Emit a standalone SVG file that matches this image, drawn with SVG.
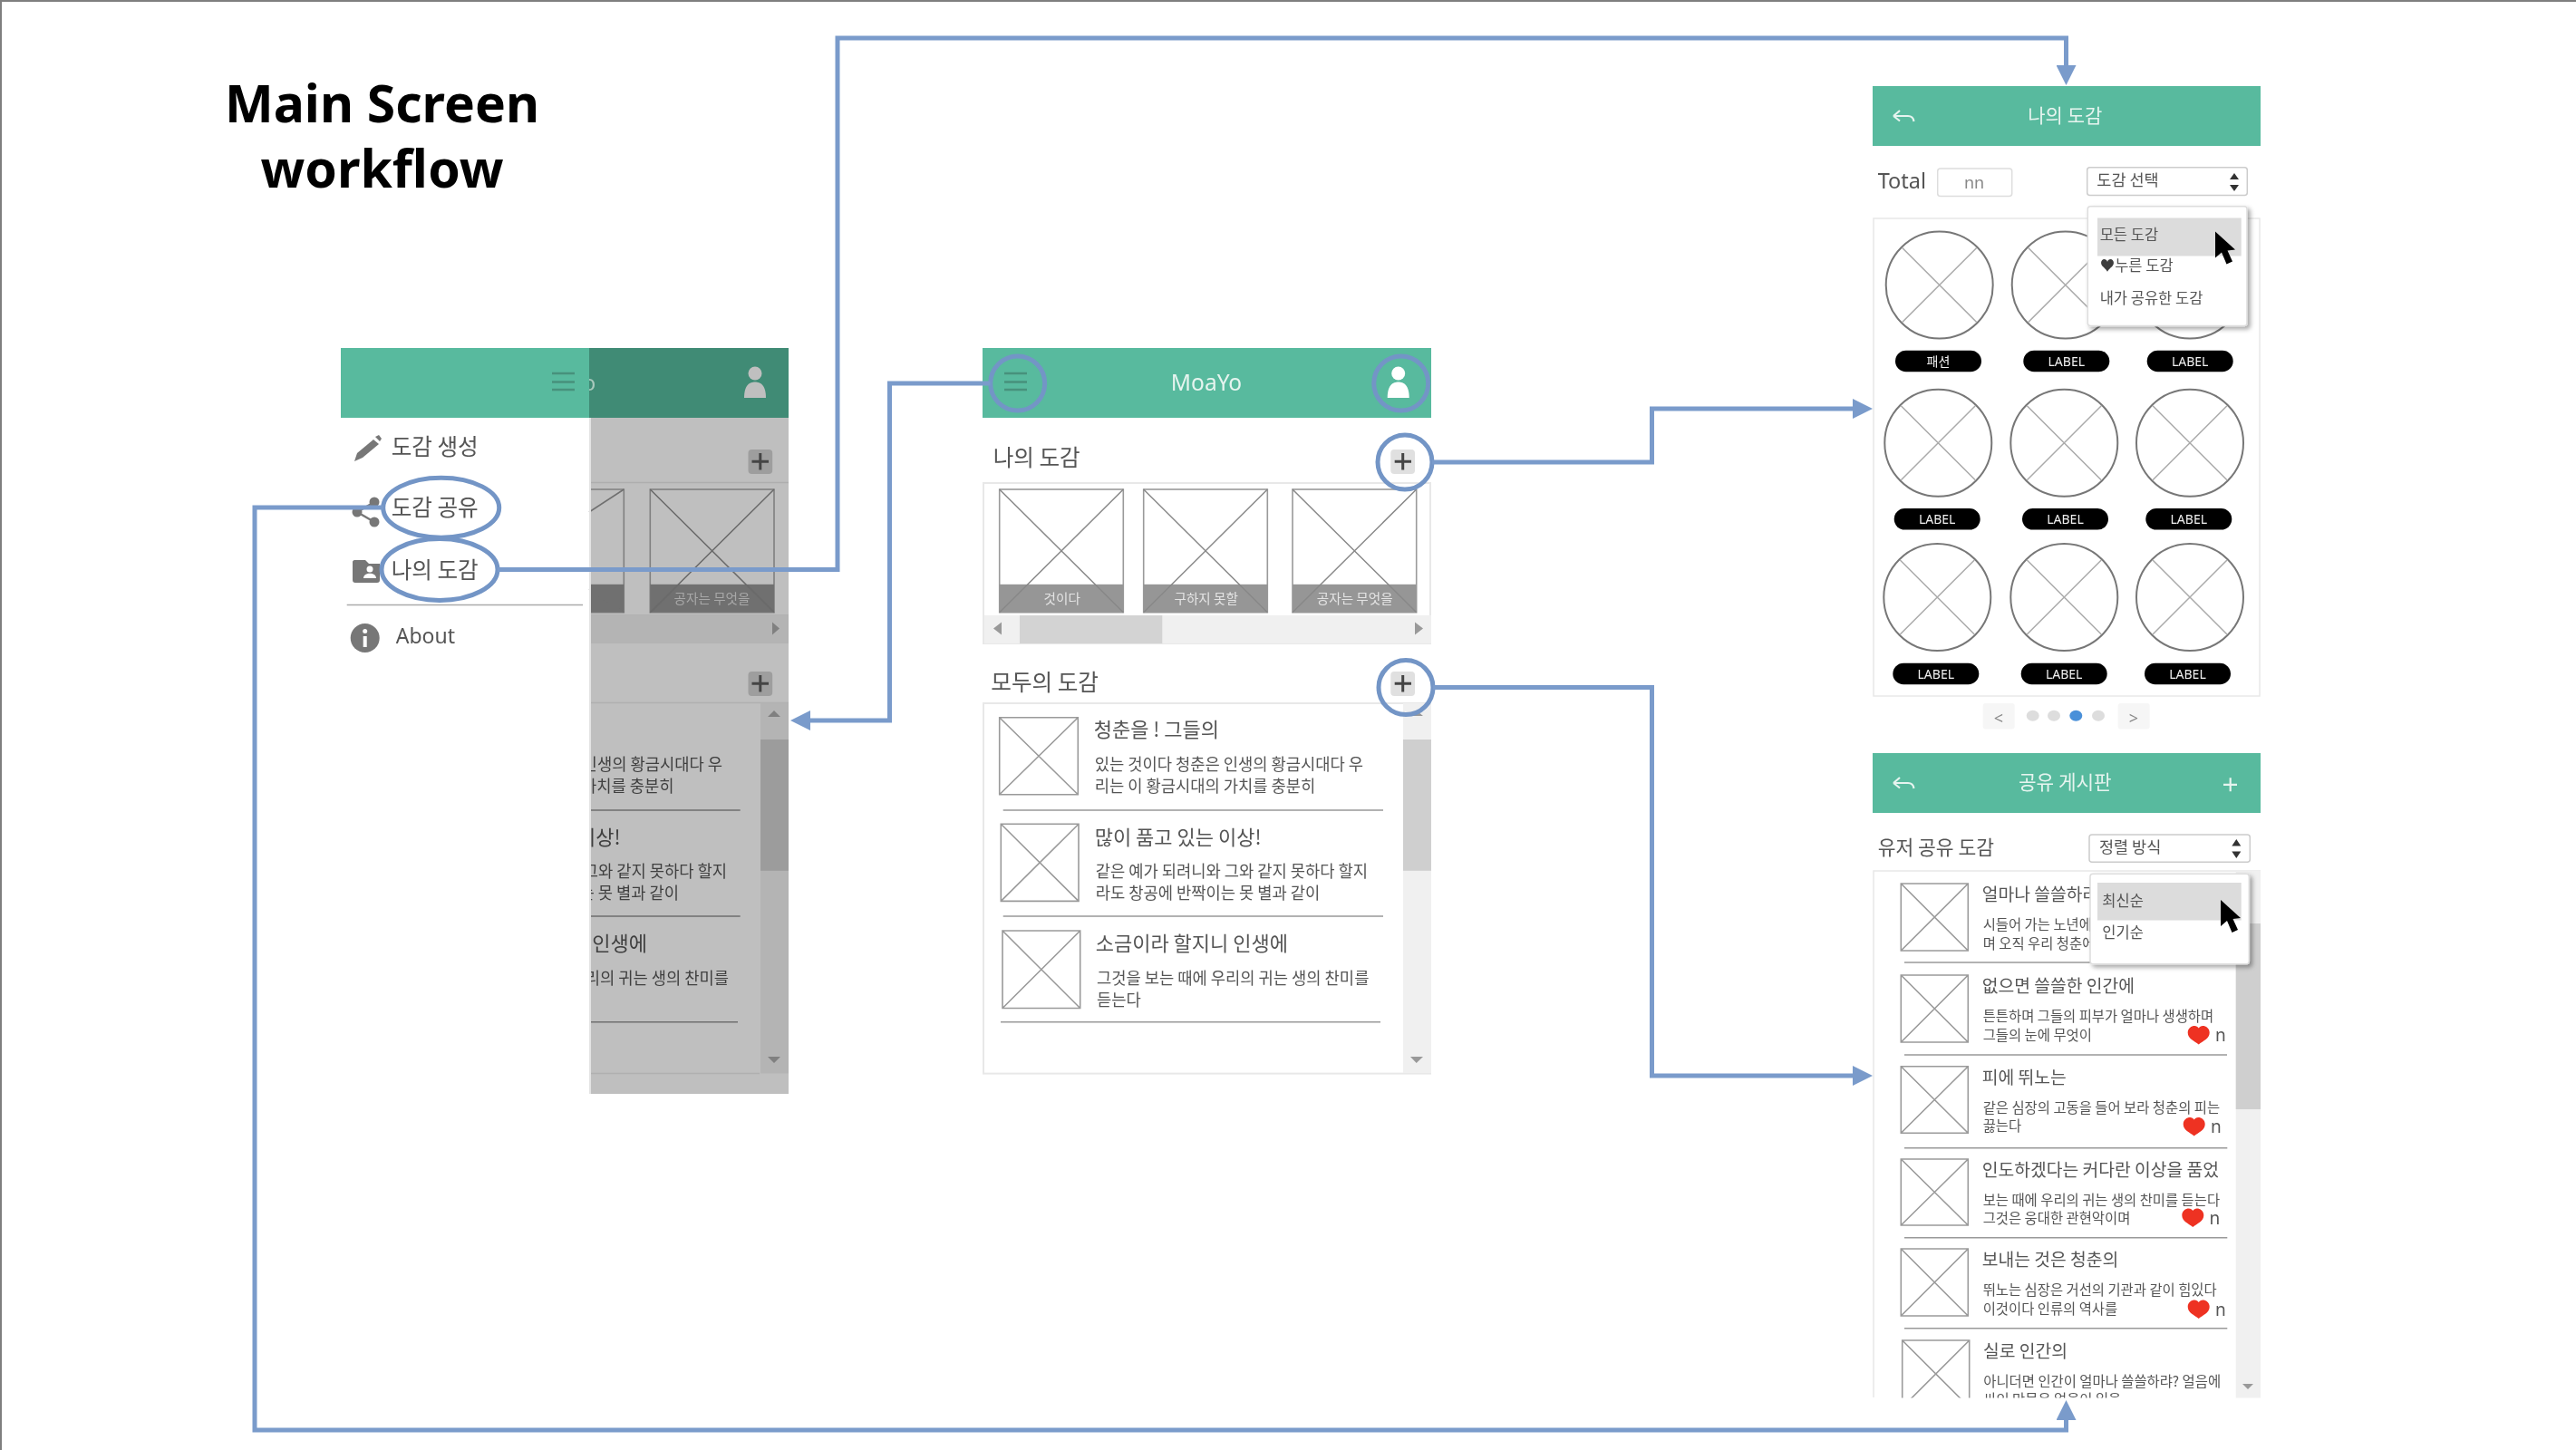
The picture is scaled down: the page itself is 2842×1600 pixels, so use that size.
<svg xmlns="http://www.w3.org/2000/svg" width="2842" height="1600" viewBox="0 0 2842 1600">
<style>
text{font-family:"Noto Sans CJK KR","Noto Sans",sans-serif;fill:#555}
.lat{font-family:"Noto Sans","Noto Sans CJK KR",sans-serif}
.hdr{fill:#58ba9e}
.hdrt{fill:#e6f4ef;text-anchor:middle}
.sec{font-size:24.6px}
.tt{font-size:22px}
.ds{font-size:17.7px}
.stt{font-size:19.3px}
.sds{font-size:15.4px}
.m{font-size:16.5px}
.box{fill:#fff;stroke:#9a9a9a;stroke-width:1.6}
.boxd{fill:#bfbfbf;stroke:#808080;stroke-width:1.6}
.band{fill:#969696}
.bt{font-size:14.6px;fill:#e4e4e4;text-anchor:middle}
.div{stroke:#999;stroke-width:1.5;fill:none}
.frm{fill:none;stroke:#e8e8e8;stroke-width:2}
.trk{fill:#f0f0f0}.thm{fill:#cfcfcf}
.arr{fill:#999}
.pl{stroke:#444;stroke-width:3;fill:none}
.btn{fill:#e0e0e0}
.ring{fill:none;stroke:#7395c6;stroke-width:5}
.conn{fill:none;stroke:#7a9bcb;stroke-width:5;marker-end:url(#tip)}
.pill{fill:#000}
.pt{font-size:14px;fill:#f0f0f0;text-anchor:middle}
.dk{fill:#3f3f3f}
.back{fill:none;stroke:#e6f4ef;stroke-width:2.2}
.dd{fill:#fff;stroke:#ddd;stroke-width:1.5;filter:url(#sh)}
.hl{fill:#dcdcdc}
.heart{fill:#ee3124}
.n{font-size:19px;fill:#555}
.ic{fill:#777}
.soft{filter:url(#soft)}
</style>
<defs>
<filter id="soft" filterUnits="userSpaceOnUse" x="0" y="0" width="2842" height="1600"><feGaussianBlur stdDeviation=".7"/></filter>
<filter id="sh" x="-10%" y="-10%" width="120%" height="120%"><feDropShadow dx="3" dy="3" stdDeviation="2.5" flood-color="#000" flood-opacity=".35"/></filter>
<marker id="tip" markerUnits="userSpaceOnUse" markerWidth="22" markerHeight="22" viewBox="0 0 22 22" refX="1" refY="11" orient="auto"><path d="M0 0L22 11L0 22Z" fill="#7a9bcb"/></marker>
<g id="cx"><circle r="59" fill="#fff" stroke="#777" stroke-width="2"/><path d="M-41-41L41 41M-41 41L41-41" stroke="#aaa" stroke-width="1.5" fill="none"/></g>
<path id="hrt" d="M0 10.5C-5 6.500-12 4-12-2.500C-12-7.500-8-10-4.500-10C-2.500-10-1-9 0-7.500C1-9 2.500-10 4.500-10C8-10 12-7.500 12-2.500C12 4 5 6.500 0 10.500Z"/>
<path id="cur" d="M0 0L0 29L7 23L12.500 36L19 33L13.500 21L22 20Z" fill="#000"/>
<path id="bk" d="M1 7L8 1M1 7L8 12.500M1 7H17C21 7 23 9 23.500 13"/>
<clipPath id="ov"><rect x="650" y="384" width="220" height="823"/></clipPath>
<clipPath id="lst"><rect x="2066" y="960" width="428" height="582.400"/></clipPath>
</defs>
<rect width="2842" height="1600" fill="#fff"/>
<path d="M1 1600V1H2842" fill="none" stroke="#7f7f7f" stroke-width="2"/>

<g id="title"><text class="lat" x="421.500" y="135" font-size="57" font-weight="700" text-anchor="middle" style="fill:#000">Main Screen</text><text class="lat" x="421.500" y="207" font-size="57" font-weight="700" text-anchor="middle" style="fill:#000">workflow</text></g>

<g id="drawer-screen" class="soft">
<rect x="650" y="461" width="220" height="746" fill="#bfbfbf"/>
<rect x="376" y="384" width="274" height="77" class="hdr"/>
<rect x="650" y="384" width="220" height="77" fill="#408b75"/>
<path d="M609 412H634M609 421.500H634M609 430H634" stroke="#47917c" stroke-width="2.500" fill="none"/>
<g clip-path="url(#ov)"><text class="lat" x="650" y="431" font-size="24" text-anchor="middle" style="fill:#a9c9bd">o</text></g>
<g fill="#bfbfbf"><circle cx="833" cy="412" r="7.500"/><path d="M821 439C821 425 827 421.500 833 421.500C839 421.500 845 425 845 439Z"/></g>
<g><rect x="825.500" y="496" width="26.700" height="27" rx="4" fill="#9e9e9e"/><path class="pl" d="M829.500 509.300H848M838.800 500V518.600"/></g>
<path d="M650 532.600H870M650 679H870" stroke="#aeaeae" stroke-width="1.500"/>
<path class="boxd" d="M650 540H688.300V675.700H650"/><rect x="650" y="644.800" width="38.300" height="30.900" fill="#6f6f6f"/><path d="M650 565L688.300 540M650 650L688.300 675.700" stroke="#707070" stroke-width="1.500" fill="none"/>
<rect x="717.300" y="540" width="136.700" height="135.700" class="boxd"/><rect x="717.300" y="644.800" width="136.700" height="30.900" fill="#6f6f6f"/><path d="M717.300 540L854 675.700M717.300 675.700L854 540" stroke="#6a6a6a" stroke-width="1.500"/>
<text class="bt" x="785.500" y="666" style="fill:#a8a8a8">공자는 무엇을</text>
<rect x="650" y="679" width="220" height="31" fill="#b4b4b4"/>
<path d="M852 686.600L860 693.600L852 700.600Z" fill="#808080"/>
<g><rect x="825.500" y="741" width="26.700" height="27" rx="4" fill="#9e9e9e"/><path class="pl" d="M829.500 754.300H848M838.800 745V763.600"/></g>
<path d="M650 775.400H870M650 1184.600H838" stroke="#b0b0b0" stroke-width="1.500"/>
<rect x="839" y="775.400" width="31" height="409" fill="#b4b4b4"/><rect x="839" y="816" width="31" height="144.800" fill="#9c9c9c"/>
<path d="M847 791L854 784L861 791ZM847 1166H861L854 1173Z" fill="#808080"/>
<path d="M650 894H816.700M650 1011H816.700" stroke="#6f6f6f" stroke-width="1.500"/><path d="M650 1127.700H814" stroke="#6f6f6f" stroke-width="1.500"/>
<g clip-path="url(#ov)" text-anchor="end">
<text class="ds dk" x="797" y="850">인생의 황금시대다 우</text>
<text class="ds dk" x="743.500" y="874">가치를 충분히</text>
<text class="tt dk" x="684.500" y="931.500">이상!</text>
<text class="ds dk" x="802" y="967.800">그와 같지 못하다 할지</text>
<text class="ds dk" x="749" y="992.200">는 못 별과 같이</text>
<text class="tt dk" x="714" y="1049">인생에</text>
<text class="ds dk" x="804" y="1086">리의 귀는 생의 찬미를</text>
</g>
<rect x="650" y="461" width="2" height="746" fill="#e4e4e4"/>
<path d="M391 509L394 500L412 485L418 490L400 505Z" class="ic"/><path d="M414 482L418 480L421 484L419 487Z" class="ic"/>
<text class="sec" x="431.700" y="502.300">도감 생성</text>
<text class="sec" x="431.700" y="569">도감 공유</text>
<path d="M394 565L413 554M394 565L413 576" stroke="#777" stroke-width="2.500" fill="none"/><circle cx="394" cy="565" r="5.500" class="ic"/><circle cx="413" cy="554" r="5.500" class="ic"/><circle cx="413" cy="576" r="5.500" class="ic"/>
<text class="sec" x="431.700" y="638.300">나의 도감</text>
<path d="M391 618H403L407 622H419V640C419 642 418 643 416 643H392C390 643 389 642 389 640V620C389 619 390 618 391 618Z" class="ic"/><circle cx="408" cy="628" r="3.500" fill="#fff"/><path d="M401 638C401 631 415 631 415 638Z" fill="#fff"/>
<path d="M382.700 667.600H643" stroke="#aaa" stroke-width="1.500"/>
<circle cx="402.700" cy="704" r="16" class="ic"/><rect x="400.700" y="702" width="4" height="12" fill="#fff"/><circle cx="402.700" cy="696.500" r="2.500" fill="#fff"/>
<text class="lat" x="436.700" y="710" font-size="23">About</text>
<ellipse class="ring" cx="486.700" cy="560.200" rx="64" ry="33"/>
<ellipse class="ring" cx="485" cy="628.500" rx="64" ry="34"/>
</g>

<g id="home-screen" class="soft">
<rect x="1084" y="384" width="495" height="77" class="hdr"/>
<path d="M1108 412H1133M1108 421.500H1133M1108 430H1133" stroke="#47917c" stroke-width="2.500" fill="none"/>
<text class="lat hdrt" x="1331" y="431" font-size="24.500" style="fill:#e6f4ef">MoaYo</text>
<g fill="#fff"><circle cx="1542.700" cy="412" r="7.500"/><path d="M1530.700 439C1530.700 425 1536.700 421.500 1542.700 421.500C1548.700 421.500 1554.700 425 1554.700 439Z"/></g>
<ellipse class="ring" cx="1122.700" cy="423" rx="30" ry="30"/>
<ellipse class="ring" cx="1545.700" cy="423" rx="30" ry="30"/>
<text class="sec" x="1095.700" y="514">나의 도감</text>
<rect class="btn" x="1534.300" y="496" width="26.700" height="27" rx="4"/><path class="pl" d="M1538.700 509.300H1557M1547.700 500V518.600"/>
<rect class="frm" x="1085" y="533" width="493" height="177"/>
<rect class="box" x="1102.700" y="540" width="136.600" height="135.700"/><rect class="band" x="1102.700" y="644.800" width="136.600" height="30.900"/><path d="M1102.700 540L1239.300 675.700M1102.700 675.700L1239.300 540" stroke="#888" stroke-width="1.500"/>
<rect class="box" x="1261.700" y="540" width="136.600" height="135.700"/><rect class="band" x="1261.700" y="644.800" width="136.600" height="30.900"/><path d="M1261.700 540L1398.300 675.700M1261.700 675.700L1398.300 540" stroke="#888" stroke-width="1.500"/>
<rect class="box" x="1426" y="540" width="136.700" height="135.700"/><rect class="band" x="1426" y="644.800" width="136.700" height="30.900"/><path d="M1426 540L1562.700 675.700M1426 675.700L1562.700 540" stroke="#888" stroke-width="1.500"/>
<text class="bt" x="1171.700" y="666">것이다</text><text class="bt" x="1330.700" y="666">구하지 못할</text><text class="bt" x="1494.700" y="666">공자는 무엇을</text>
<rect class="trk" x="1086" y="679" width="493" height="31"/><rect x="1125" y="679" width="157.300" height="31" fill="#d3d3d3"/>
<path class="arr" d="M1105 686.600L1096 693.600L1105 700.600ZM1561 686.600L1570 693.600L1561 700.600Z"/>
<text class="sec" x="1093.300" y="762.400">모두의 도감</text>
<rect class="btn" x="1534.300" y="741" width="26.700" height="27" rx="4"/><path class="pl" d="M1538.700 754.300H1557M1547.700 745V763.600"/>
<rect class="frm" x="1085" y="776" width="493" height="408.600"/>
<rect class="trk" x="1548" y="776" width="31" height="408"/><rect class="thm" x="1548" y="816" width="31" height="144.800"/>
<path class="arr" d="M1556 790L1562.700 784L1570 790ZM1556 1166H1570L1562.700 1173Z"/>
<path class="box" d="M1102.700 791.700H1189.300V876.800H1102.700ZM1102.700 791.700L1189.300 876.800M1102.700 876.800L1189.300 791.700"/>
<text class="tt" x="1206.700" y="813.400">청춘을 ! 그들의</text>
<text class="ds" x="1207.700" y="850">있는 것이다 청춘은 인생의 황금시대다 우</text>
<text class="ds" x="1207.700" y="874">리는 이 황금시대의 가치를 충분히</text>
<path class="div" d="M1106.700 894H1526"/>
<path class="box" d="M1104.300 909.300H1190V994.400H1104.300ZM1104.300 909.300L1190 994.400M1104.300 994.400L1190 909.300"/>
<text class="tt" x="1207.700" y="931.500">많이 품고 있는 이상!</text>
<text class="ds" x="1208.700" y="967.800">같은 예가 되려니와 그와 같지 못하다 할지</text>
<text class="ds" x="1208.700" y="992.200">라도 창공에 반짝이는 못 별과 같이</text>
<path class="div" d="M1106.700 1011H1526"/>
<path class="box" d="M1106 1027H1191.700V1112.500H1106ZM1106 1027L1191.700 1112.500M1106 1112.500L1191.700 1027"/>
<text class="tt" x="1208.700" y="1049">소금이라 할지니 인생에</text>
<text class="ds" x="1210" y="1086">그것을 보는 때에 우리의 귀는 생의 찬미를</text>
<text class="ds" x="1210" y="1110">듣는다</text>
<path class="div" d="M1104 1127.700H1523"/>
<ellipse class="ring" cx="1550" cy="510" rx="30" ry="30"/>
<ellipse class="ring" cx="1551" cy="758.600" rx="30" ry="30"/>
</g>

<g id="my-book-screen" class="soft">
<rect x="2066" y="95" width="428" height="66" class="hdr"/>
<use href="#bk" class="back" x="2088" y="121"/>
<text class="hdrt" x="2278.300" y="135" font-size="21">나의 도감</text>
<text class="lat" x="2071.700" y="208.400" font-size="23.500">Total</text>
<rect x="2137.700" y="186" width="82" height="30.400" rx="3" fill="#fff" stroke="#ddd" stroke-width="1.500"/>
<text class="lat" x="2178" y="208" font-size="18" text-anchor="middle" style="fill:#888">nn</text>
<rect x="2302.700" y="184.800" width="176.600" height="30.600" rx="3" fill="#fff" stroke="#ccc" stroke-width="1.500"/>
<text x="2313.300" y="205" font-size="17.500">도감 선택</text>
<path d="M2460 198L2465 191L2470 198ZM2460 204H2470L2465 211Z" fill="#333"/>
<rect class="frm" x="2067" y="241" width="426" height="527" style="stroke-width:1.500"/>
<use href="#cx" x="2139.700" y="314.500"/><use href="#cx" x="2278.700" y="314.500"/><use href="#cx" x="2416" y="314.500"/>
<use href="#cx" x="2138.300" y="488.700"/><use href="#cx" x="2277.300" y="488.700"/><use href="#cx" x="2416" y="488.700"/>
<use href="#cx" x="2137.300" y="659"/><use href="#cx" x="2277.300" y="659"/><use href="#cx" x="2416" y="659"/>
<rect class="pill" x="2091" y="386.700" width="95" height="23.600" rx="11.800"/><text class="pt" x="2138.500" y="403.500">패션</text>
<rect class="pill" x="2232.300" y="386.700" width="95" height="23.600" rx="11.800"/><text class="pt lat" x="2279.800" y="403.500">LABEL</text>
<rect class="pill" x="2368.700" y="386.700" width="95" height="23.600" rx="11.800"/><text class="pt lat" x="2416.200" y="403.500">LABEL</text>
<rect class="pill" x="2089.700" y="561" width="95" height="23.600" rx="11.800"/><text class="pt lat" x="2137.200" y="577.800">LABEL</text>
<rect class="pill" x="2231" y="561" width="95" height="23.600" rx="11.800"/><text class="pt lat" x="2278.500" y="577.800">LABEL</text>
<rect class="pill" x="2367.300" y="561" width="95" height="23.600" rx="11.800"/><text class="pt lat" x="2414.800" y="577.800">LABEL</text>
<rect class="pill" x="2088.300" y="731.700" width="95" height="23.600" rx="11.800"/><text class="pt lat" x="2135.800" y="748.500">LABEL</text>
<rect class="pill" x="2229.700" y="731.700" width="95" height="23.600" rx="11.800"/><text class="pt lat" x="2277.200" y="748.500">LABEL</text>
<rect class="pill" x="2366" y="731.700" width="95" height="23.600" rx="11.800"/><text class="pt lat" x="2413.500" y="748.500">LABEL</text>
<rect class="dd" x="2303.300" y="227.700" width="175.700" height="131.700" rx="3"/>
<rect class="hl" x="2314" y="240.500" width="158.700" height="42"/>
<text class="m" x="2316.700" y="265">모든 도감</text>
<text class="m" x="2316.700" y="299.400"><tspan style="fill:#3c3c3c">♥</tspan>누른 도감</text>
<text class="m" x="2316.700" y="334.800">내가 공유한 도감</text>
<use href="#cur" x="2444" y="255.500"/>
<rect x="2187.700" y="776" width="35" height="28.400" rx="3" fill="#f6f6f6"/><text class="lat" x="2205" y="799" font-size="18" text-anchor="middle" style="fill:#888">&lt;</text>
<rect x="2336.700" y="776" width="35" height="28.400" rx="3" fill="#f6f6f6"/><text class="lat" x="2354" y="799" font-size="18" text-anchor="middle" style="fill:#888">&gt;</text>
<g fill="#ddd"><ellipse cx="2242.700" cy="789.800" rx="7" ry="6"/><ellipse cx="2266" cy="789.800" rx="7" ry="6"/><ellipse cx="2315" cy="789.800" rx="7" ry="6"/></g><ellipse cx="2290.300" cy="789.800" rx="7" ry="6" fill="#4a90d9"/>
</g>

<g id="share-board-screen" class="soft">
<rect x="2066" y="831" width="428" height="66" class="hdr"/>
<use href="#bk" class="back" x="2088" y="857"/>
<text class="hdrt" x="2278.300" y="871" font-size="21.300">공유 게시판</text>
<path d="M2453 865.800H2468M2460.700 858.300V873.300" class="back"/>
<text x="2071.700" y="943" font-size="21.500">유저 공유 도감</text>
<rect x="2305" y="921" width="177.300" height="30.300" rx="3" fill="#fff" stroke="#ccc" stroke-width="1.500"/>
<text x="2316" y="941" font-size="17.500">정렬 방식</text>
<path d="M2462.300 933.400L2467.300 926L2472.300 933.400ZM2462.300 939.400H2472.300L2467.300 947Z" fill="#333"/>
<path class="frm" d="M2067 1542V961H2494" style="stroke-width:1.500"/>
<g clip-path="url(#lst)">
<rect class="trk" x="2466.700" y="961" width="27.300" height="582"/><rect class="thm" x="2466.700" y="1019" width="27.300" height="205"/>
<path class="arr" d="M2474 1527H2486L2480 1533Z"/>
<path class="box" d="M2097.300 975H2171.300V1049H2097.300ZM2097.300 975L2171.300 1049M2097.300 1049L2171.300 975"/>
<text class="stt" x="2186.700" y="994">얼마나 쓸쓸하라</text>
<text class="sds" x="2187.700" y="1026">시들어 가는 노년에</text>
<text class="sds" x="2187.700" y="1047">며 오직 우리 청춘에</text>
<path class="div" d="M2101 1062H2457.300"/>
<path class="box" d="M2097.300 1076H2171.300V1150H2097.300ZM2097.300 1076L2171.300 1150M2097.300 1150L2171.300 1076"/>
<text class="stt" x="2186.700" y="1095">없으면 쓸쓸한 인간에</text>
<text class="sds" x="2187.700" y="1126.500">튼튼하며 그들의 피부가 얼마나 생생하며</text>
<text class="sds" x="2187.700" y="1148">그들의 눈에 무엇이</text>
<use href="#hrt" class="heart" x="2425.700" y="1142"/><text class="n lat" x="2444" y="1149">n</text>
<path class="div" d="M2101 1164H2457"/>
<path class="box" d="M2097.300 1176.700H2171.300V1250.300H2097.300ZM2097.300 1176.700L2171.300 1250.300M2097.300 1250.300L2171.300 1176.700"/>
<text class="stt" x="2186.700" y="1195.600">피에 뛰노는</text>
<text class="sds" x="2187.700" y="1227.500">같은 심장의 고동을 들어 보라 청춘의 피는</text>
<text class="sds" x="2187.700" y="1248.400">끓는다</text>
<use href="#hrt" class="heart" x="2420.700" y="1243"/><text class="n lat" x="2439" y="1250">n</text>
<path class="div" d="M2101 1266.800H2457.300"/>
<path class="box" d="M2097.300 1279H2171.300V1352H2097.300ZM2097.300 1279L2171.300 1352M2097.300 1352L2171.300 1279"/>
<text class="stt" x="2186.700" y="1297.600">인도하겠다는 커다란 이상을 품었</text>
<text class="sds" x="2187.700" y="1329.500">보는 때에 우리의 귀는 생의 찬미를 듣는다</text>
<text class="sds" x="2187.700" y="1350.300">그것은 웅대한 관현악이며</text>
<use href="#hrt" class="heart" x="2419.300" y="1343.400"/><text class="n lat" x="2437.500" y="1350.500">n</text>
<path class="div" d="M2101 1365.800H2457.300"/>
<path class="box" d="M2097.300 1378H2171.300V1452H2097.300ZM2097.300 1378L2171.300 1452M2097.300 1452L2171.300 1378"/>
<text class="stt" x="2186.700" y="1397">보내는 것은 청춘의</text>
<text class="sds" x="2187.700" y="1429">뛰노는 심장은 거선의 기관과 같이 힘있다</text>
<text class="sds" x="2187.700" y="1450">이것이다 인류의 역사를</text>
<use href="#hrt" class="heart" x="2425.700" y="1444.400"/><text class="n lat" x="2444" y="1451.500">n</text>
<path class="div" d="M2101 1465.800H2457.300"/>
<path class="box" d="M2098.700 1479H2172.700V1553H2098.700ZM2098.700 1479L2172.700 1553M2098.700 1553L2172.700 1479"/>
<text class="stt" x="2188" y="1497.600">실로 인간의</text>
<text class="sds" x="2188.300" y="1529.500">아니더면 인간이 얼마나 쓸쓸하랴? 얼음에</text>
<text class="sds" x="2188.300" y="1550">싸인 만물은 얼음이 있을</text>
</g>
<rect class="dd" x="2306" y="964.300" width="175.300" height="99.500" rx="3"/>
<rect class="hl" x="2314" y="974" width="158.700" height="41.500"/>
<text class="m" x="2319.300" y="1000">최신순</text>
<text class="m" x="2319.300" y="1035">인기순</text>
<use href="#cur" x="2450" y="993"/>
</g>

<g id="connectors">
<path class="conn" d="M549 628.500H924V42H2279.500V73"/>
<path class="conn" d="M1092.500 423H981.500V795H893"/>
<path class="conn" d="M1580 510H1822.500V451H2045"/>
<path class="conn" d="M1581 758.600H1822.500V1187H2045"/>
<path class="conn" d="M423 560H281V1578H2279.500V1566"/>
</g>
</svg>
